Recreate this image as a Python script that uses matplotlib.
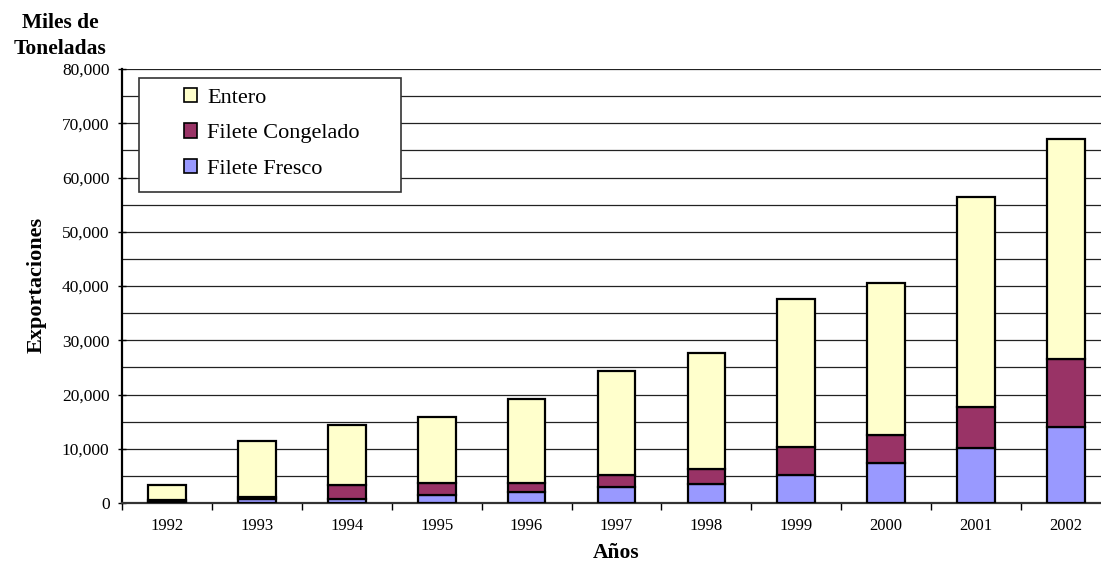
import matplotlib.pyplot as plt
import numpy as np
from matplotlib.ticker import FuncFormatter, MultipleLocator
from matplotlib.patches import Rectangle

years = ['1992', '1993', '1994', '1995', '1996', '1997', '1998', '1999', '2000', '2001', '2002']
fresco = [100, 700, 800, 1400, 2000, 2900, 3500, 5200, 7400, 10100, 14000]
congelado = [400, 400, 2500, 2300, 1700, 2300, 2800, 5100, 5100, 7600, 12500]
entero = [2800, 10300, 11100, 12150, 15500, 19100, 21300, 27300, 28100, 38700, 40600]

plt.rcParams['font.family'] = 'Liberation Serif'

fig = plt.figure(figsize=(11.01, 5.67), dpi=100)
ax = fig.add_axes([122/1101, 64/567, 989/1101, 434/567])

x = np.arange(len(years))
w = 0.42
f = np.array(fresco)
c = np.array(congelado)
e = np.array(entero)
kw = dict(width=w, edgecolor='black', linewidth=1.6, zorder=3)
ax.bar(x, f, color='#9999FF', label='Filete Fresco', **kw)
ax.bar(x, c, bottom=f, color='#993366', label='Filete Congelado', **kw)
ax.bar(x, e, bottom=f + c, color='#FFFFCC', label='Entero', **kw)

ax.set_xlim(-0.5, len(years) - 0.5)
ax.set_ylim(0, 80000)
ax.yaxis.set_major_locator(MultipleLocator(10000))
ax.yaxis.set_minor_locator(MultipleLocator(5000))
ax.yaxis.set_major_formatter(FuncFormatter(lambda v, p: f'{int(v):,}'))
ax.grid(axis='y', which='both', color='#222222', linewidth=0.9, zorder=0)
ax.set_axisbelow(True)

ax.set_xticks(x)
ax.set_xticklabels(years, fontsize=12)
ax.set_xticks(np.arange(len(years) + 1) - 0.5, minor=True)
ax.tick_params(axis='x', which='major', length=0, pad=11)
ax.tick_params(axis='x', which='minor', length=5, direction='out', width=1)
ax.tick_params(axis='y', which='major', length=6, direction='inout', width=1, labelsize=12.5, pad=6)
ax.tick_params(axis='y', which='minor', length=0)

for s in ['top', 'right']:
    ax.spines[s].set_visible(False)
ax.spines['left'].set_linewidth(1.6)
ax.spines['bottom'].set_linewidth(1.6)
ax.spines['bottom'].set_color('#333333')

fig.text(60/1101, 1 - 36/567, 'Miles de\nToneladas', ha='center', va='center',
         fontsize=15.5, fontweight='bold', linespacing=1.4)
fig.text(37/1101, 1 - 285/567, 'Exportaciones', ha='center', va='center',
         rotation=90, fontsize=16, fontweight='bold')
fig.text(616/1101, 1 - 553/567, 'Años', ha='center', va='center',
         fontsize=15.5, fontweight='bold')

# legend frame drawn by hand, entries placed inside it
fig.patches.append(Rectangle((139/1101, 1 - 192/567), 262/1101, 114/567,
                             transform=fig.transFigure, facecolor='white',
                             edgecolor='#333333', linewidth=1.2, zorder=5))
handles, labels = ax.get_legend_handles_labels()
leg = fig.legend(handles[::-1], labels[::-1], loc='upper left',
                 bbox_to_anchor=(184/1101, 1 - 88/567),
                 frameon=False, fontsize=16,
                 handlelength=0.6, handleheight=0.6, handletextpad=0.45,
                 labelspacing=0.7, borderpad=0, borderaxespad=0)
leg.set_zorder(6)
for h in leg.legend_handles:
    h.set_linewidth(1.2)

fig.savefig('out.png', dpi=100)
